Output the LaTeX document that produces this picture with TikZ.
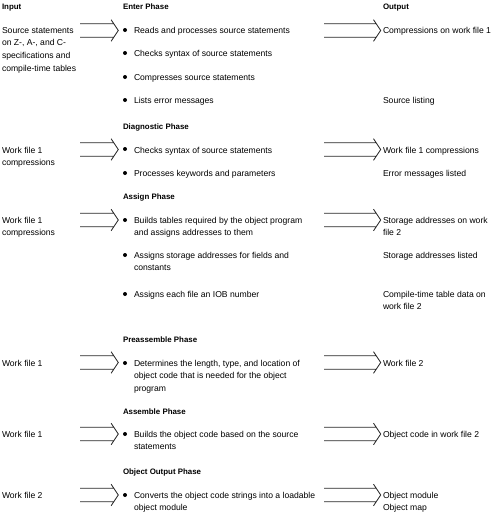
\documentclass[tikz,border=0pt]{standalone}
\usepackage{fontspec}
\setmainfont{Liberation Sans}
\usetikzlibrary{calc}
\newcommand\bodyfnt{\fontsize{8.6}{12.9}\selectfont}
\newcommand\headfnt{\fontsize{7.9}{12.9}\selectfont\bfseries}
\newcommand\fatarrow[2]{%
  \draw[fatarr] let \p1=(#1), \p2=(#2) in
    (\x1,\y1+6.8pt) -- (\x2-4.5pt,\y1+6.8pt)
    (\x1,\y1-6.8pt) -- (\x2-4.5pt,\y1-6.8pt)
    (\x2-7.2pt,\y1+10.8pt) -- (\x2,\y1) -- (\x2-7.2pt,\y1-10.8pt);}
\begin{document}
\begin{tikzpicture}[x=1pt,y=1pt,
  txt/.style={anchor=north west, inner sep=0pt, outer sep=0pt, align=left, font=\bodyfnt, text=black},
  hd/.style={txt, font=\headfnt},
  bul/.style={circle, fill=black, inner sep=0pt, minimum size=4pt},
  fatarr/.style={line width=0.8pt, draw=black!85, line join=miter}]
\useasboundingbox (0,0) rectangle (496,-531);

% headers
\node[hd] (hIn)  at (2,-0)   {\strut Input};
\node[hd] (hEn)  at (123,-0) {\strut Enter Phase};
\node[hd] (hOut) at (383,-0) {\strut Output};
\node[hd] (hDi)  at (123,-120) {\strut Diagnostic Phase};
\node[hd] (hAs)  at (123,-190) {\strut Assign Phase};
\node[hd] (hPr)  at (123,-333) {\strut Preassemble Phase};
\node[hd] (hAm)  at (123,-405) {\strut Assemble Phase};
\node[hd] (hOo)  at (123,-465) {\strut Object Output Phase};

% input column
\node[txt] (in1) at (2,-24)  {\strut Source statements\\on Z-, A-, and C-\\specifications and\\compile-time tables};
\node[txt] (in2) at (2,-144) {\strut Work file 1\\compressions};
\node[txt] (in3) at (2,-214) {\strut Work file 1\\compressions};
\node[txt] (in4) at (2,-357) {\strut Work file 1};
\node[txt] (in5) at (2,-428) {\strut Work file 1};
\node[txt] (in6) at (2,-489) {\strut Work file 2};

% phase items
\node[txt] (e1) at (134,-24) {\strut Reads and processes source statements};
\node[txt] (e2) at (134,-47) {\strut Checks syntax of source statements};
\node[txt] (e3) at (134,-71) {\strut Compresses source statements};
\node[txt] (e4) at (134,-94) {\strut Lists error messages};
\node[txt] (d1) at (134,-144) {\strut Checks syntax of source statements};
\node[txt] (d2) at (134,-167) {\strut Processes keywords and parameters};
\node[txt] (a1) at (134,-214) {\strut Builds tables required by the object program\\and assigns addresses to them};
\node[txt] (a2) at (134,-249) {\strut Assigns storage addresses for fields and\\constants};
\node[txt] (a3) at (134,-288) {\strut Assigns each file an IOB number};
\node[txt] (p1) at (134,-357) {\strut Determines the length, type, and location of\\object code that is needed for the object\\program};
\node[txt] (m1) at (134,-428) {\strut Builds the object code based on the source\\statements};
\node[txt] (o1) at (134,-489) {\strut Converts the object code strings into a loadable\\object module};

% bullets
\foreach \n/\y in {be1/30, be2/53, be3/77, be4/100, bd1/149, bd2/173, ba1/220, ba2/255, ba3/294, bp1/363, bm1/434, bo1/495}
  \node[bul] (\n) at (125,-\y) {};

% output column
\node[txt] (r1) at (383,-24)  {\strut Compressions on work file 1};
\node[txt] (r2) at (383,-94)  {\strut Source listing};
\node[txt] (r3) at (383,-144) {\strut Work file 1 compressions};
\node[txt] (r4) at (383,-167) {\strut Error messages listed};
\node[txt] (r5) at (383,-214) {\strut Storage addresses on work\\file 2};
\node[txt] (r6) at (383,-249) {\strut Storage addresses listed};
\node[txt] (r7) at (383,-288) {\strut Compile-time table data on\\work file 2};
\node[txt] (r8) at (383,-357) {\strut Work file 2};
\node[txt] (r9) at (383,-428) {\strut Object code in work file 2};
\node[txt] (r10) at (383,-489) {\strut Object module\\Object map};

% arrow end points
\foreach \k/\y in {1/30.5, 2/149.5, 3/220, 4/362.5, 5/434, 6/495}{
  \coordinate (ia\k) at (80,-\y);
  \coordinate (ib\k) at (118.3,-\y);
  \coordinate (oa\k) at (324,-\y);
  \coordinate (ob\k) at (380.7,-\y);
}
\foreach \k in {1,...,6}{
  \fatarrow{ia\k}{ib\k}
  \fatarrow{oa\k}{ob\k}
}
\end{tikzpicture}
\end{document}
